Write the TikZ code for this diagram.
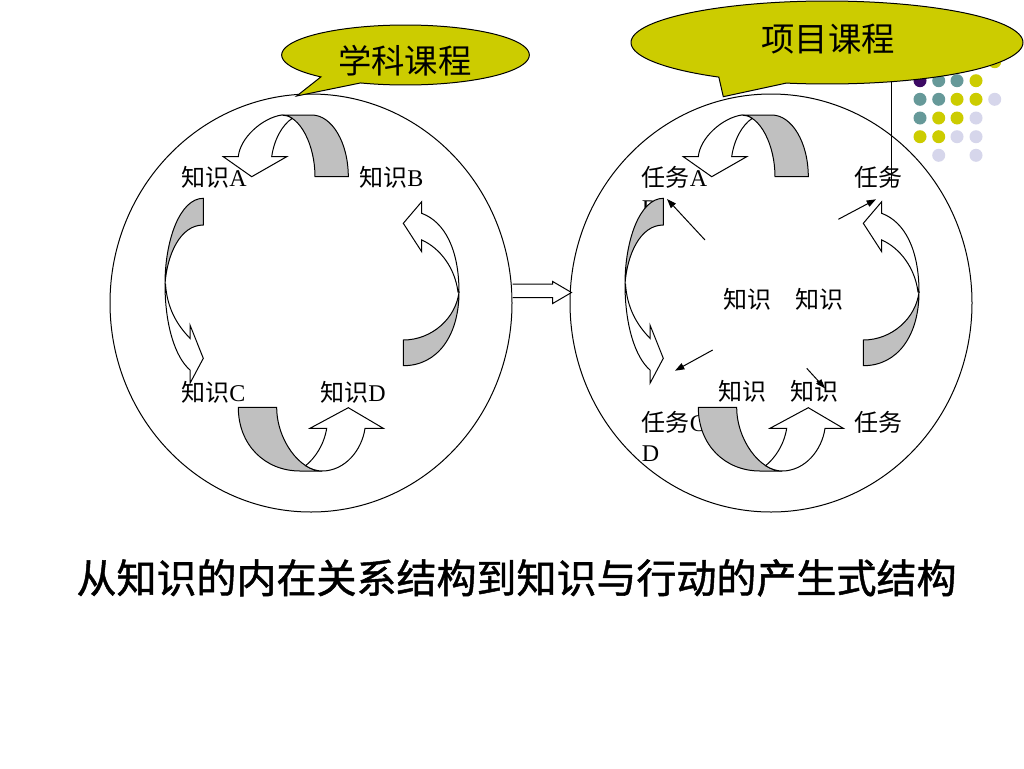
\documentclass[tikz,border=0pt]{standalone}
\usepackage{fontspec}
\setmainfont{Liberation Serif}
\newfontfamily\cjk{Noto Sans CJK SC}
\newfontfamily\cjktitle[FakeBold=1.2]{Noto Sans CJK SC}
\usetikzlibrary{arrows.meta}
\definecolor{bubbley}{RGB}{204,204,0}
\definecolor{tealdot}{RGB}{102,153,153}
\definecolor{lavdot}{RGB}{214,214,235}
\definecolor{purpdot}{RGB}{60,10,100}
\definecolor{bandgray}{RGB}{192,192,192}
\newcommand\curvedset{%
  % top arrow
  \draw[band] (281.7,115) -- (311.7,115) .. controls (331.9,115) and (348.3,142.6) .. (348.3,176.7)
     -- (315,176.7) .. controls (315,145) and (300,115) .. (281.7,115) -- cycle;
  \draw[body] (281.7,115) .. controls (262,118) and (240,138) .. (238.3,156.7) -- (223.3,156.7)
     -- (251.7,176.7) -- (286.7,156.7) -- (271.7,156.7) .. controls (274,140) and (282,125) .. (292.2,118.4)
     .. controls (288.9,116.2) and (285.4,115) .. (281.7,115) -- cycle;
  % right arrow
  \draw[band] (403.3,365.7) .. controls (438,365.7) and (459,335) .. (459,292)
     .. controls (456,318) and (432,340) .. (403.3,340) -- cycle;
  \draw[body] (459,292) .. controls (459,250) and (445,222) .. (421.7,213.3) -- (421.7,201.7)
     -- (403.3,223.3) -- (421.7,251.7) -- (421.7,240) .. controls (440,248) and (455,268) .. (458,292) -- cycle;
  % left arrow
  \draw[band] (203.3,198.3) .. controls (180,198.3) and (165,240) .. (165,284)
     .. controls (167,255) and (180,225) .. (203.3,225) -- cycle;
  \draw[body] (165,284) .. controls (165,325) and (175,357) .. (190,370) -- (190,383.3)
     -- (203.3,358.3) -- (190,325) -- (190,338.3) .. controls (177,325) and (167,308) .. (165.5,284) -- cycle;
  % bottom arrow
  \draw[band] (238.3,407.3) -- (276.7,407.3) .. controls (276.7,440) and (300,471) .. (322,471)
     -- (300,471) .. controls (265,471) and (238.3,445) .. (238.3,407.3) -- cycle;
  \draw[body] (322,471) .. controls (345,471) and (362,450) .. (365,428.3) -- (383.3,428.3)
     -- (348.3,407.7) -- (310,428.3) -- (326.7,428.3) .. controls (324,445) and (315,458) .. (305.6,465.7)
     .. controls (310.9,469.1) and (316.5,471) .. (322,471) -- cycle;
}
\begin{document}
\begin{tikzpicture}[x=0.75pt,y=-0.75pt,
  band/.style={draw=black, line width=0.75pt, fill=bandgray},
  body/.style={draw=black, line width=0.75pt, fill=white},
  lbl/.style={anchor=base west, inner sep=0pt, font=\fontsize{18pt}{22pt}\selectfont},
  bubble/.style={draw=black, line width=0.75pt, fill=bubbley},
  btext/.style={anchor=base, inner sep=0pt, font=\fontsize{25pt}{30pt}\cjk},
  ptr/.style={draw=black, line width=0.75pt, -{Triangle[length=7pt,width=5pt]}},
  hollow/.style={draw=black, line width=0.75pt, fill=white}
]
\useasboundingbox[fill=white] (0,0) rectangle (1024,768);

% decorative dots
\fill[bubbley] (994.7,61.7) circle[radius=4.875pt];
\foreach \x/\y/\c in {920/80.7/purpdot, 938.7/80.7/tealdot, 957/80.7/tealdot, 976/80.7/bubbley,
  920/99.3/tealdot, 938.7/99.3/tealdot, 957/99.3/bubbley, 976/99.3/bubbley, 994.7/99.3/lavdot,
  920/118/tealdot, 938.7/118/bubbley, 957/118/bubbley, 976/118/lavdot,
  920/136.7/bubbley, 938.7/136.7/bubbley, 957/136.7/lavdot, 976/136.7/lavdot,
  938.7/155.3/lavdot, 976/155.3/lavdot}
  \fill[\c] (\x,\y) circle[radius=4.875pt];

% circles
\draw[line width=0.75pt] (311,303) ellipse [x radius=150.75pt, y radius=156.75pt];
\draw[line width=0.75pt] (771,303) ellipse [x radius=150.75pt, y radius=156.75pt];

% labels left circle
\node[lbl] (kA) at (181,186.5) {{\cjk 知识}A};
\node[lbl] (kB) at (359,186.5) {{\cjk 知识}B};
\node[lbl] (kC) at (181,401) {{\cjk 知识}C};
\node[lbl] (kD) at (320,401) {{\cjk 知识}D};

% labels right circle
\node[lbl] (tA) at (641.5,186.5) {{\cjk 任务}A};
\node[lbl] (tAb) at (641.5,216.5) {B};
\node[lbl] (tB) at (854,186.5) {\cjk 任务};
\node[lbl] (kmid) at (723,308) {\cjk 知识\hspace{1em}知识};
\node[lbl] (klow) at (718,400) {\cjk 知识\hspace{1em}知识};
\node[lbl] (tC) at (641.5,431.5) {{\cjk 任务}C};
\node[lbl] (tCd) at (641.5,461.5) {D};
\node[lbl] (tD) at (854,431.5) {\cjk 任务};

% curved arrows
\curvedset
\begin{scope}[shift={(460,0)}]
\curvedset
\end{scope}

% small pointers
\coordinate (p1s) at (705,240); \coordinate (p1e) at (667,199);
\coordinate (p2s) at (838.3,219.3); \coordinate (p2e) at (876,199.3);
\coordinate (p3s) at (712.7,350); \coordinate (p3e) at (675,370.7);
\coordinate (p4s) at (806.7,368.3); \coordinate (p4e) at (825,388.3);
\draw[ptr] (p1s) -- (p1e);
\draw[ptr] (p2s) -- (p2e);
\draw[ptr] (p3s) -- (p3e);
\draw[ptr] (p4s) -- (p4e);

% hollow arrow between circles
\coordinate (ht) at (571.5,292.5);
\draw[hollow] (512.7,284) -- (552.7,284) -- (552.7,281.5) -- (ht) -- (552.7,303.5) -- (552.7,297.5) -- (512.7,297.5);

% bubbles
\draw[bubble] plot[domain=248.7:586.9, samples=150] ({405.5+123.8*cos(\x)}, {55-30*sin(\x)}) -- (296.7,96) -- cycle;
\node[btext] (xk) at (404.8,73.5) {学科课程};
\draw[bubble] plot[domain=258:596.5, samples=150] ({827+196*cos(\x)}, {42.5-41.5*sin(\x)}) -- (723.3,96.7) -- cycle;
\node[btext] (xm) at (828.3,51) {项目课程};
\coordinate (v1) at (891.7,82);
\coordinate (v2) at (891.7,186);
\draw[line width=0.75pt] (v1) -- (v2);

% title
\node[anchor=base, inner sep=0pt, font=\fontsize{30pt}{36pt}\cjktitle] (title) at (516.5,593) {从知识的内在关系结构到知识与行动的产生式结构};
\end{tikzpicture}
\end{document}
